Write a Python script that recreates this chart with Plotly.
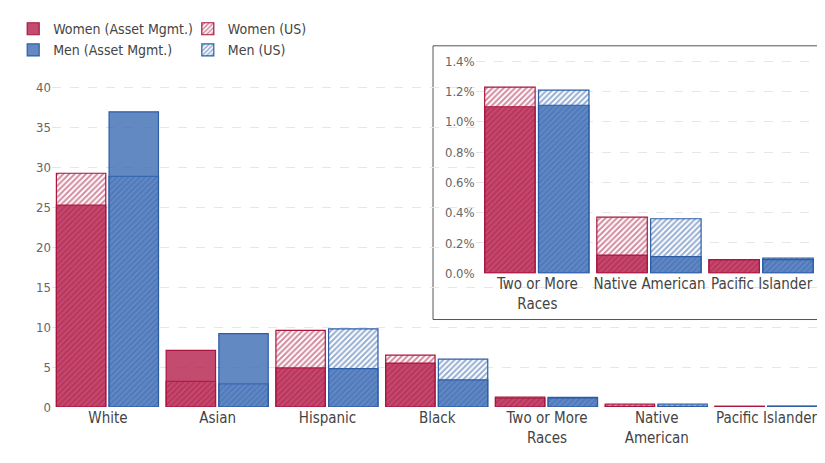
import plotly.graph_objects as go

cats = ["White", "Asian", "Hispanic", "Black", "Two or More Races", "Native American", "Pacific Islander"]
main_labels = ["White", "Asian", "Hispanic", "Black", "Two or More<br>Races", "Native<br>American", "Pacific Islander"]
inset_labels = ["Two or More<br>Races", "Native American", "Pacific Islander"]

women_am = [25.3, 7.1, 4.9, 5.5, 1.10, 0.12, 0.09]
women_us = [29.3, 3.2, 9.6, 6.5, 1.23, 0.37, 0.09]
men_am = [37.0, 9.2, 4.8, 3.4, 1.11, 0.11, 0.09]
men_us = [28.9, 2.9, 9.8, 6.0, 1.21, 0.36, 0.10]

RED, BLUE = "#a8163f", "#2c5da6"
RED_S, BLUE_S = "rgba(180,30,75,0.8)", "rgba(60,108,180,0.8)"
FONT = "DejaVu Sans Condensed, Liberation Sans Narrow, sans-serif"

fig = go.Figure()

def add_pair(vals_us, vals_am, color, solid, off, name, xs, xa, ya, show):
    fig.add_trace(go.Bar(x=xs, y=vals_us, width=0.45, offset=off, name=name + " (US)",
                         marker=dict(color="white", line=dict(color=color, width=1.2),
                                     pattern=dict(shape="/", fgcolor=color, bgcolor="white", size=4, solidity=0.5)),
                         xaxis=xa, yaxis=ya, legend="legend2", showlegend=show))
    fig.add_trace(go.Bar(x=xs, y=vals_am, width=0.45, offset=off, name=name + " (Asset Mgmt.)",
                         marker=dict(color=solid, line=dict(color=color, width=1.2)),
                         xaxis=xa, yaxis=ya, legend="legend", showlegend=show))

xm = list(range(len(cats)))
add_pair(women_us, women_am, RED, RED_S, -0.47, "Women", xm, "x", "y", True)
add_pair(men_us, men_am, BLUE, BLUE_S, 0.01, "Men", xm, "x", "y", True)
xi = [0, 1, 2]
add_pair(women_us[4:], women_am[4:], RED, RED_S, -0.47, "Women", xi, "x2", "y2", False)
add_pair(men_us[4:], men_am[4:], BLUE, BLUE_S, 0.01, "Men", xi, "x2", "y2", False)

grid = dict(showgrid=True, gridcolor="#e6e6e6", griddash="dash", zeroline=False, ticksuffix="%",
            tickfont=dict(color="#666", size=13), automargin=False)
fig.update_layout(
    width=825, height=463, barmode="overlay", plot_bgcolor="white", paper_bgcolor="white",
    font=dict(family=FONT, size=15, color="#444"),
    margin=dict(l=38, r=5, t=30, b=64),
    xaxis=dict(tickvals=xm, ticktext=main_labels, range=[-0.51, 6.56], showline=False, ticks="", automargin=False),
    yaxis=dict(range=[0, 45.5], tickvals=[0, 5, 10, 15, 20, 25, 30, 35, 40], **grid),
    xaxis2=dict(domain=[0.546, 0.994], anchor="y2", tickvals=xi, ticktext=inset_labels, range=[-0.55, 2.55],
                automargin=False),
    yaxis2=dict(domain=[0.3686, 0.973], anchor="x2", range=[0, 1.45], dtick=0.2, tickformat=".1f", **grid),
    legend=dict(x=-0.05, y=1.085, xanchor="left", yanchor="top", orientation="v", bgcolor="rgba(0,0,0,0)",
                font=dict(size=14), tracegroupgap=2, itemwidth=30),
    legend2=dict(x=0.175, y=1.085, xanchor="left", yanchor="top", orientation="v", bgcolor="rgba(0,0,0,0)",
                 font=dict(size=14), tracegroupgap=2, itemwidth=30),
    shapes=[dict(type="rect", xref="paper", yref="paper", x0=0.491, x1=1.003, y0=0.241, y1=0.995,
                 fillcolor="white", line=dict(color="#555", width=1), layer="between")],
)
fig.write_html("out.html")
